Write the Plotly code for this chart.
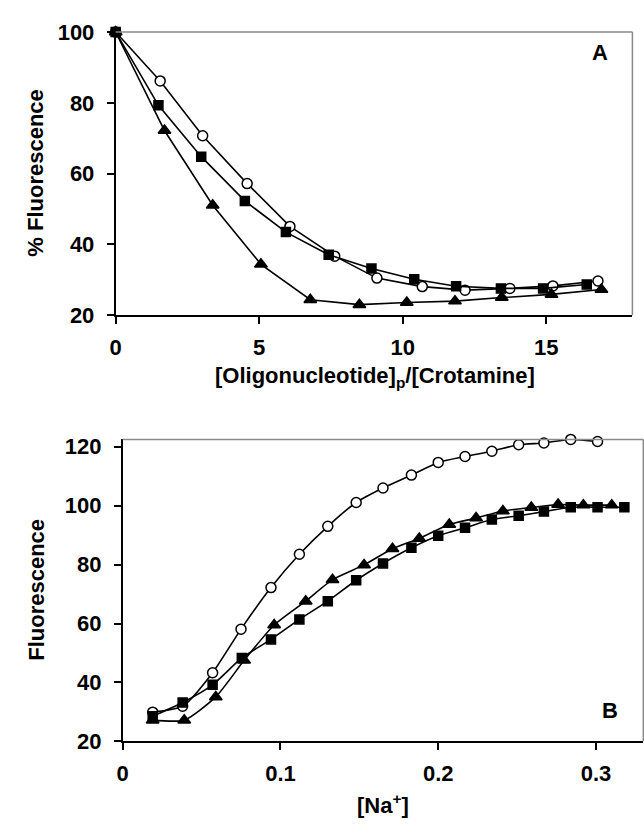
import plotly.graph_objects as go

# Panel A data
a_circ_x = [0, 1.55, 3.03, 4.58, 6.07, 7.63, 9.1, 10.68, 12.17, 13.73, 15.23, 16.8]
a_circ_y = [100, 86.2, 70.7, 57.2, 45.1, 36.7, 30.5, 28.1, 27.1, 27.6, 28.3, 29.7]
a_sq_x = [0, 1.49, 2.98, 4.5, 5.93, 7.42, 8.91, 10.4, 11.86, 13.42, 14.89, 16.41]
a_sq_y = [100, 79.3, 64.8, 52.3, 43.5, 37.1, 33.2, 30.2, 28.2, 27.6, 27.6, 28.7]
a_tri_x = [0, 1.7, 3.38, 5.06, 6.78, 8.49, 10.14, 11.82, 13.45, 15.18, 16.92]
a_tri_y = [100, 72.2, 51.1, 34.4, 24.4, 23.0, 23.6, 24.0, 25.0, 25.9, 27.3]

# Panel B data
b_circ_x = [0.019, 0.038, 0.057, 0.075, 0.094, 0.112, 0.130, 0.148, 0.165, 0.183, 0.200,
            0.217, 0.234, 0.251, 0.267, 0.284, 0.301]
b_circ_y = [29.9, 31.9, 43.3, 58.1, 72.2, 83.5, 93.0, 101.1, 106.0, 110.4, 114.7,
            116.7, 118.5, 120.7, 121.3, 122.5, 121.8]
b_sq_x = [0.019, 0.038, 0.057, 0.0755, 0.094, 0.112, 0.130, 0.148, 0.165, 0.183, 0.200,
          0.217, 0.234, 0.251, 0.267, 0.284, 0.301, 0.318]
b_sq_y = [28.5, 33.2, 39.2, 48.3, 54.6, 61.4, 67.6, 74.7, 80.4, 85.7, 89.8,
          92.5, 95.3, 96.6, 98.0, 99.5, 99.5, 99.5]
b_tri_x = [0.019, 0.039, 0.059, 0.077, 0.096, 0.116, 0.133, 0.153, 0.171, 0.188, 0.207,
           0.224, 0.241, 0.259, 0.276, 0.292, 0.310]
b_tri_y = [27.2, 27.2, 35.1, 47.5, 59.5, 67.6, 74.9, 79.9, 85.4, 88.9, 93.6,
           95.8, 98.2, 99.4, 100.4, 100.2, 100.2]

W, H = 644, 830
FONT = "Liberation Sans, Arial"

fig = go.Figure()

def add(x, y, sym, fill, size, xa, ya, shape):
    fig.add_trace(go.Scatter(
        x=x, y=y, mode="lines+markers", xaxis=xa, yaxis=ya,
        line=dict(color="black", width=1.6, shape=shape, smoothing=0.6),
        marker=dict(symbol=sym, size=size, color=fill,
                    line=dict(color="black", width=1.5)),
        cliponaxis=False, showlegend=False))

add(a_circ_x, a_circ_y, "circle", "white", 10, "x", "y", "linear")
add(a_sq_x, a_sq_y, "square", "black", 9, "x", "y", "linear")
add(a_tri_x, a_tri_y, "triangle-up", "black", 11, "x", "y", "linear")

add(b_circ_x, b_circ_y, "circle", "white", 10, "x2", "y2", "spline")
add(b_sq_x, b_sq_y, "square", "black", 9, "x2", "y2", "spline")
add(b_tri_x, b_tri_y, "triangle-up", "black", 11, "x2", "y2", "spline")

axfont = dict(family=FONT, size=22, color="black", weight="bold")
common = dict(showgrid=False, zeroline=False, showline=True, linecolor="black",
              linewidth=1.8, ticks="outside", ticklen=7, tickwidth=1.8,
              tickcolor="black", tickfont=axfont)

fig.update_layout(
    width=W, height=H, margin=dict(l=0, r=0, t=0, b=0),
    paper_bgcolor="white", plot_bgcolor="white",
    xaxis=dict(domain=[110.7/W, 632.3/W], range=[0, 18], tickvals=[0, 5, 10, 15],
               anchor="y", ticklabelstandoff=4, **common),
    yaxis=dict(domain=[(H-312.7)/H, (H-20.7)/H], range=[20, 100],
               tickvals=[20, 40, 60, 80, 100], anchor="x", ticklabelstandoff=8, **common),
    xaxis2=dict(domain=[117.8/W, 643.3/W], range=[0, 0.33], tickvals=[0, 0.1, 0.2, 0.3],
                ticktext=["0", "0.1", "0.2", "0.3"], anchor="y2", ticklabelstandoff=4, **common),
    yaxis2=dict(domain=[(H-752)/H, (H-440.7)/H], range=[20, 122.5],
                tickvals=[20, 40, 60, 80, 100, 120], anchor="x2", ticklabelstandoff=8, **common),
)

# gray top/right borders
for xr, yr in [("x domain", "y domain"), ("x2 domain", "y2 domain")]:
    fig.add_shape(type="line", xref=xr, yref=yr, x0=0, x1=1, y0=1, y1=1,
                  line=dict(color="#8a8a8a", width=1.5))
    fig.add_shape(type="line", xref=xr, yref=yr, x0=1, x1=1, y0=0, y1=1,
                  line=dict(color="#8a8a8a", width=1.5))

tfont = dict(family=FONT, size=22, color="black")
ann = [
    dict(text="<b>% Fluorescence</b>", x=30/W, y=1-166/H, textangle=-90),
    dict(text="<b>[Oligonucleotide]<sub>p</sub>/[Crotamine]</b>", x=372/W, y=1-376/H),
    dict(text="<b>Fluorescence</b>", x=30/W, y=1-596/H, textangle=-90),
    dict(text="<b>[Na<sup>+</sup>]</b>", x=381/W, y=1-817/H),
    dict(text="<b>A</b>", x=600/W, y=1-42/H),
    dict(text="<b>B</b>", x=610/W, y=1-720/H),
]
for a in ann:
    fig.add_annotation(xref="paper", yref="paper", showarrow=False,
                       xanchor="center", yanchor="middle", font=tfont, **a)

fig.write_html("out.html")
